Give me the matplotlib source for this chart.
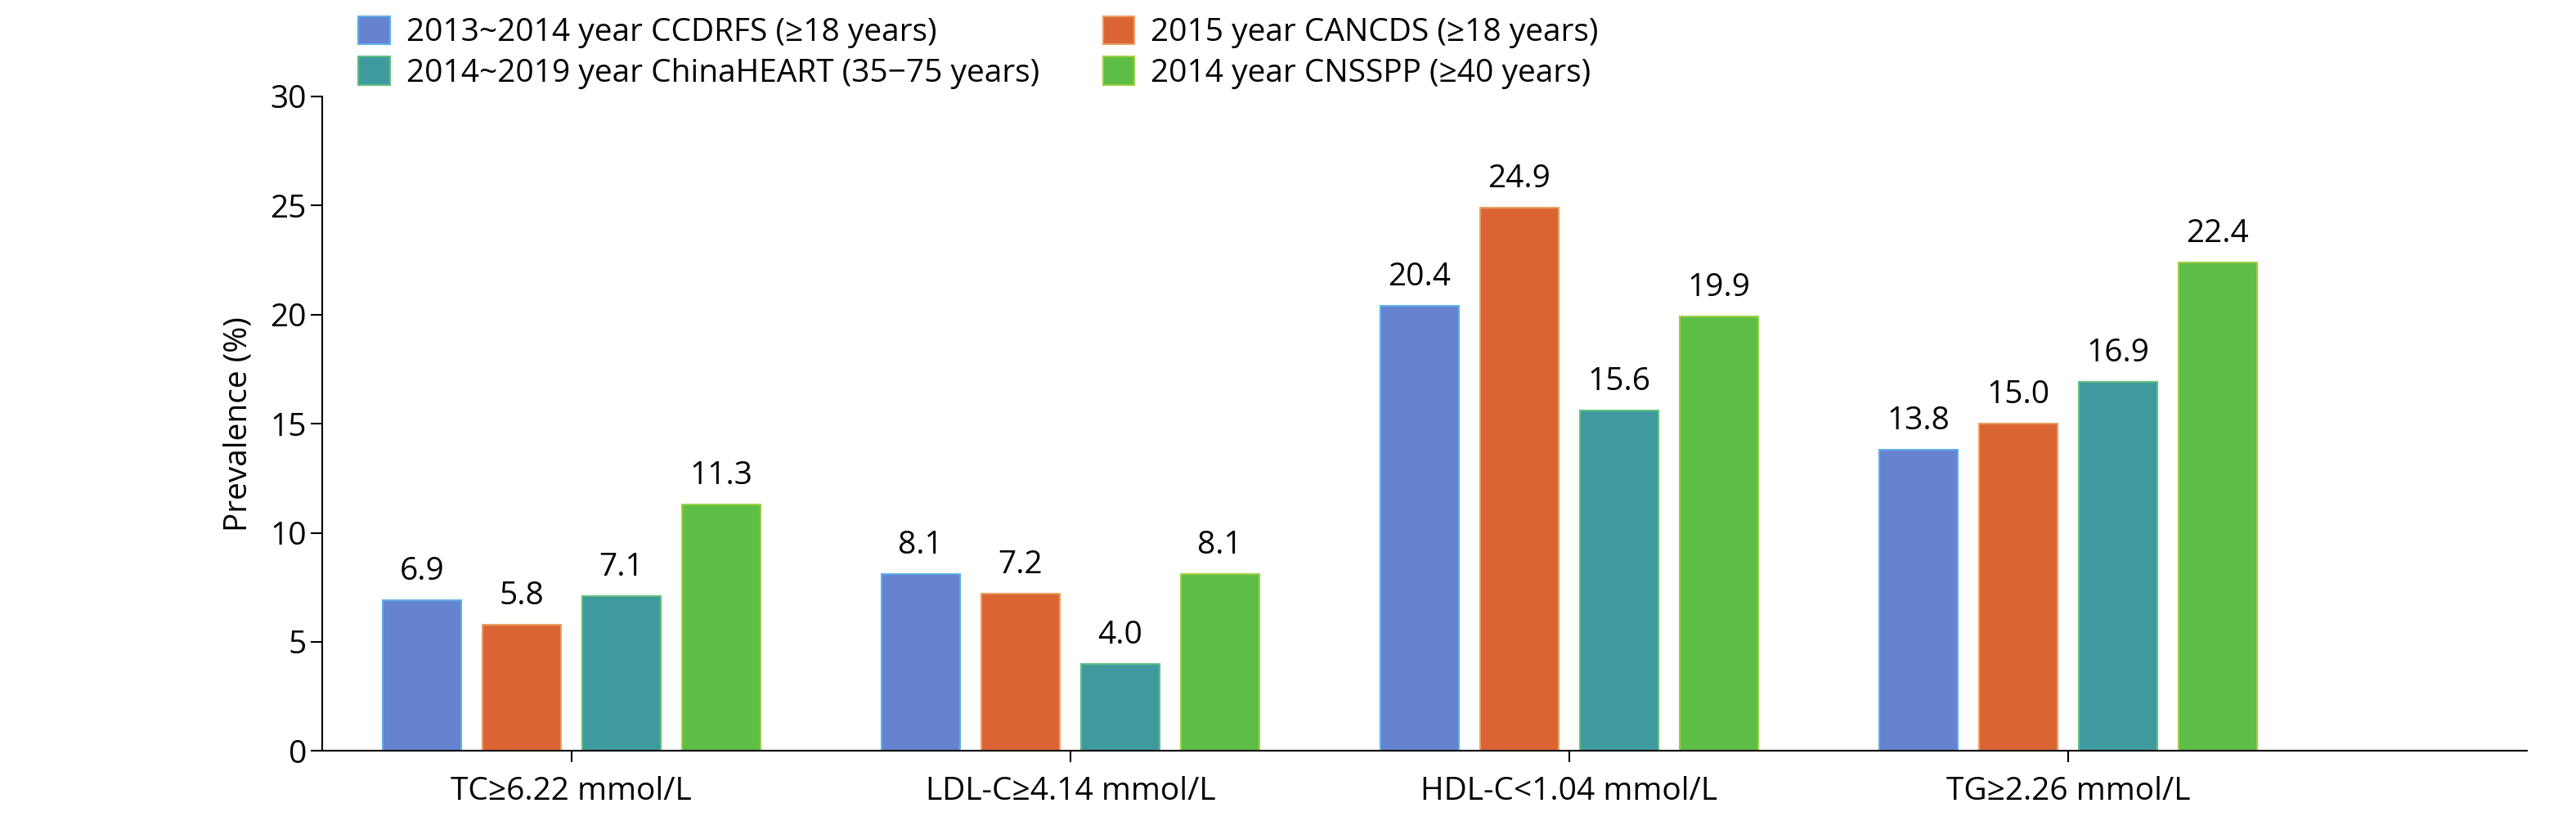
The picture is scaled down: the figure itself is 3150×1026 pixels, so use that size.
import matplotlib
matplotlib.use("Agg")
import matplotlib.pyplot as plt
import numpy as np

categories = ["TC≥6.22 mmol/L", "LDL-C≥4.14 mmol/L", "HDL-C<1.04 mmol/L", "TG≥2.26 mmol/L"]
series_names = ["2013~2014 year CCDRFS (≥18 years)",
                "2015 year CANCDS (≥18 years)",
                "2014~2019 year ChinaHEART (35−75 years)",
                "2014 year CNSSPP (≥40 years)"]
ccdrfs = [6.9, 8.1, 20.4, 13.8]
cancds = [5.8, 7.2, 24.9, 15.0]
chinaheart = [7.1, 4.0, 15.6, 16.9]
cnsspp = [11.3, 8.1, 19.9, 22.4]
colors = ["#6583CF", "#DB6434", "#3F9A9F", "#5DBE48"]
edge_colors = ["#5FB0E8", "#E8A060", "#60C080", "#A0D040"]

plt.rcParams["font.family"] = ["Open Sans", "DejaVu Sans"]

fig = plt.figure(figsize=(31.5, 10.26), dpi=100)
ax = fig.add_axes([0.125, 0.105, 0.856, 0.78])

x = np.arange(len(categories))
width = 0.157
offsets = [-0.3, -0.1, 0.1, 0.3]
handles = []
for vals, off, c, ec, name in zip([ccdrfs, cancds, chinaheart, cnsspp], offsets, colors, edge_colors, series_names):
    bars = ax.bar(x + off, vals, width, color=c, edgecolor=ec, linewidth=1.5, label=name)
    handles.append(bars)
    for xi, v in zip(x + off, vals):
        ax.text(xi, v + 0.6, "{:.1f}".format(v), ha="center", va="bottom", fontsize=28)

ax.set_xlim(-0.5, 3.92)
ax.set_ylim(0, 30)
ax.set_yticks(range(0, 31, 5))
ax.set_xticks(x)
ax.set_xticklabels(categories)
ax.tick_params(axis="both", labelsize=28, length=10, width=1.5)
ax.tick_params(axis="x", pad=12)
ax.set_ylabel("Prevalence (%)", fontsize=28, labelpad=14)
for s in ["top", "right"]:
    ax.spines[s].set_visible(False)
for s in ["left", "bottom"]:
    ax.spines[s].set_linewidth(1.5)

# matplotlib fills legend columns first; reorder so rows read like the reference
order = [0, 2, 1, 3]
fig.legend(handles=[handles[i] for i in order], labels=[series_names[i] for i in order],
           ncol=2, loc="upper left",
           bbox_to_anchor=(0.128, 1.015), frameon=False, fontsize=28,
           handlelength=1.0, handleheight=1.0, columnspacing=2.0,
           labelspacing=0.25, handletextpad=0.5)

fig.savefig("out.png", dpi=100)
